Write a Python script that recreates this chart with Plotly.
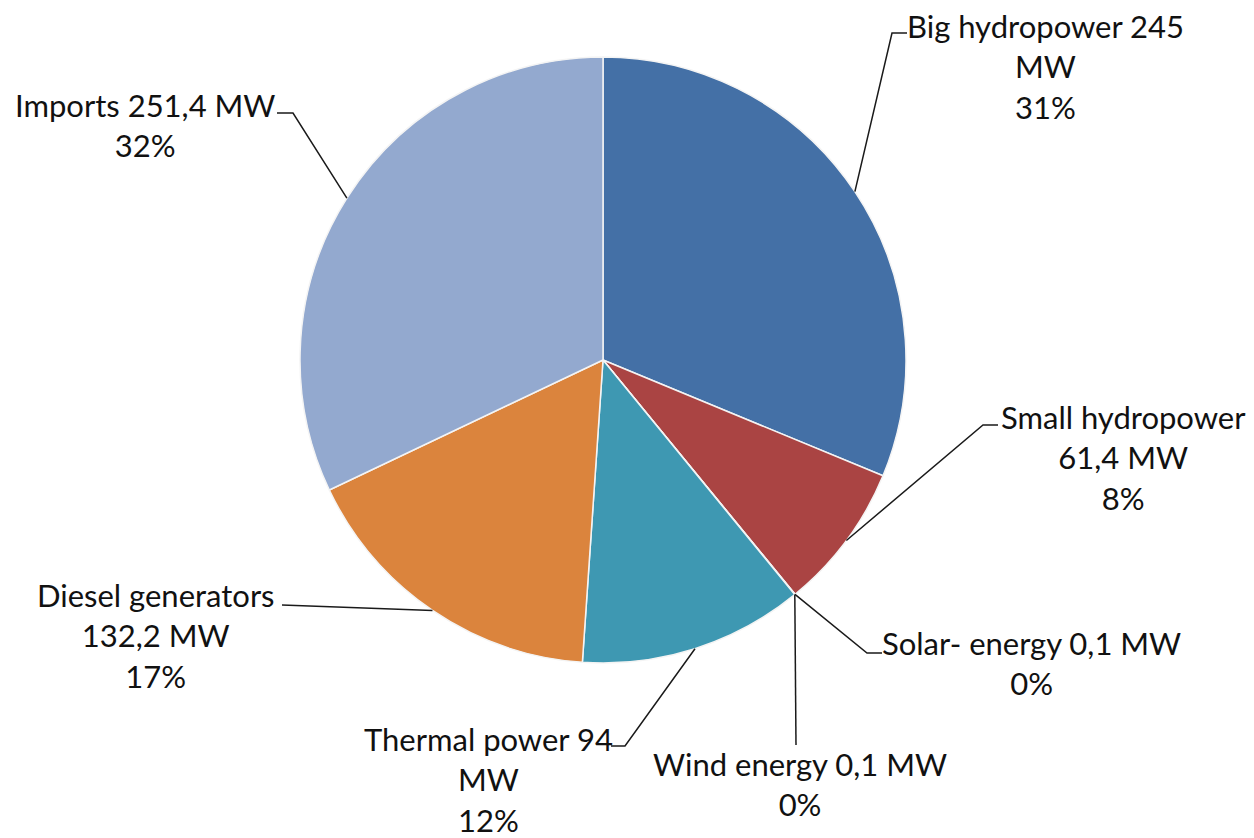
import math
import plotly.graph_objects as go

# ---- data ----
names = ["Big hydropower", "Small hydropower", "Solar- energy", "Wind energy",
         "Thermal power", "Diesel generators", "Imports"]
values_mw = [245, 61.4, 0.1, 0.1, 94, 132.2, 251.4]
value_labels = ["245", "61,4", "0,1", "0,1", "94", "132,2", "251,4"]
label_templates = [
    "Big hydropower {v}<br>MW<br>{p}%",
    "Small hydropower<br>{v} MW<br>{p}%",
    "Solar- energy {v} MW<br>{p}%",
    "Wind energy {v} MW<br>{p}%",
    "Thermal power {v}<br>MW<br>{p}%",
    "Diesel generators<br>{v} MW<br>{p}%",
    "Imports {v} MW<br>{p}%",
]

# ---- style / layout ----
colors = ["#4470A6", "#AA4443", "#8EB050", "#7D60A0", "#3E98B2", "#DB843D", "#93A9CF"]
W, H = 1254, 838
CX, CY, R = 603, 360, 303
FS = 31
# label text: centre x, centre y of first line (pixels)
label_pos = [(1045, 26), (1123, 417), (1031, 643), (800, 764),
             (488, 739), (156, 595), (145, 105)]
# leader line: elbow point and end point (pixels)
leader = [((892, 33), (907, 33)),
          ((983, 425), (998, 425)),
          ((867, 653), (882, 653)),
          ((796, 745), (796, 745)),
          ((625, 746), (611, 746)),
          ((282, 605), (282, 605)),
          ((293, 113), (277, 113))]


def px(x, y):
    return x / W, 1 - y / H


fig = go.Figure(go.Pie(
    labels=names, values=values_mw, sort=False, direction="clockwise", rotation=0,
    marker=dict(colors=colors, line=dict(color="#F4F4F4", width=1.5)),
    textinfo="none", hoverinfo="skip", showlegend=False,
    domain=dict(x=[(CX - R) / W, (CX + R) / W], y=[1 - (CY + R) / H, 1 - (CY - R) / H]),
))

total = sum(values_mw)
cum = 0.0
shapes, annotations = [], []
for i, v in enumerate(values_mw):
    mid = (cum + v / 2) / total * 2 * math.pi
    cum += v
    ax_, ay_ = CX + R * math.sin(mid), CY - R * math.cos(mid)
    (ex, ey), (tx, ty) = leader[i]
    p0, p1, p2 = px(ax_, ay_), px(ex, ey), px(tx, ty)
    shapes.append(dict(type="path", xref="paper", yref="paper",
                       path=f"M {p0[0]} {p0[1]} L {p1[0]} {p1[1]} L {p2[0]} {p2[1]}",
                       line=dict(color="#1A1A1A", width=1.5)))
    pct = round(v / total * 100)
    text = label_templates[i].format(v=value_labels[i], p=pct)
    n = text.count("<br>") + 1
    lx, ly = label_pos[i]
    ly_c = ly + (n - 1) * FS * 1.3 / 2
    x, y = px(lx, ly_c)
    annotations.append(dict(text=text, x=x, y=y, xref="paper", yref="paper",
                            xanchor="center", yanchor="middle", showarrow=False,
                            align="center", font=dict(family="Lato", size=FS, color="#111111")))

fig.update_layout(
    width=W, height=H, margin=dict(l=0, r=0, t=0, b=0),
    paper_bgcolor="white", plot_bgcolor="white",
    shapes=shapes, annotations=annotations,
)
fig.write_html("out.html")
